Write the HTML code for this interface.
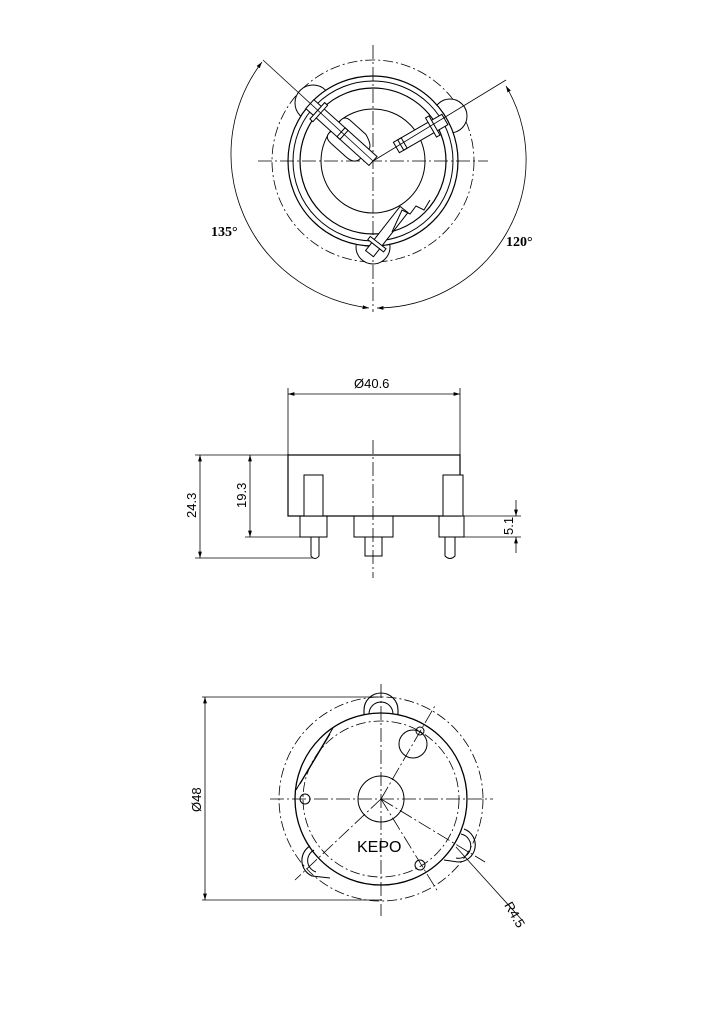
<!DOCTYPE html>
<html><head><style>body{margin:0;background:#fff}svg{display:block}</style></head><body>
<svg width="724" height="1024" viewBox="0 0 724 1024" xmlns="http://www.w3.org/2000/svg" fill="none" stroke="#000" stroke-width="1">
<defs>
<marker id="a" viewBox="0 0 10 10" refX="10" refY="5" markerWidth="8" markerHeight="8" orient="auto-start-reverse"><path d="M0,2 L10,5 L0,8z" fill="#000" stroke="none"/></marker>
</defs>
<!-- TOP VIEW -->
<g>
<circle cx="373" cy="161" r="101" stroke-dasharray="10,3,2,3" stroke-width="0.8"/>
<circle cx="313" cy="103" r="18" fill="#fff"/>
<circle cx="450" cy="116" r="17" fill="#fff"/>
<circle cx="373" cy="247" r="17" fill="#fff"/>
<circle cx="373" cy="161" r="85" stroke-width="1.2" fill="#fff"/>
<circle cx="373" cy="161" r="80"/>
<circle cx="373" cy="161" r="73" stroke-width="1.2"/>
<circle cx="373" cy="161" r="52"/>
<line x1="373" y1="45" x2="373" y2="312" stroke-dasharray="14,3,2,3" stroke-width="0.8"/>
<line x1="258" y1="161" x2="488" y2="161" stroke-dasharray="14,3,2,3" stroke-width="0.8"/>
<!-- upper-left arm -->
<g transform="rotate(-48 373 161)">
<path d="M358,118 Q358,108 367,110 L379,110 Q388,108 388,118 L388,138 Q384,150 379,150 L367,150 Q358,150 358,138 Z" fill="#fff"/>
<rect x="367" y="76" width="12" height="85" fill="#fff"/>
<rect x="362" y="86" width="22" height="4" fill="#fff"/>
<rect x="367" y="118" width="12" height="4"/>
</g>
<!-- upper-right arm -->
<g transform="rotate(60 373 161)">
<rect x="367" y="78" width="12" height="56" fill="#fff"/>
<rect x="362" y="90" width="22" height="4" fill="#fff"/>
<rect x="367" y="125" width="12" height="4"/>
</g>
<!-- bottom arm -->
<g transform="rotate(38 388 230)">
<rect x="383" y="204" width="10" height="56" fill="#fff"/>
<rect x="378" y="246" width="20" height="4" fill="#fff"/>
</g>
<path d="M392,232 L402,210 L410,214 L416,206 L424,210 L430,200"/>
<!-- angle lines -->
<line x1="373" y1="161" x2="263" y2="60" stroke-width="0.8"/>
<line x1="373" y1="161" x2="506" y2="80" stroke-width="0.8"/>
<path d="M262,62 A158,155 0 0 0 369,308" stroke-width="0.8" marker-start="url(#a)" marker-end="url(#a)"/>
<path d="M506,86 A150,148 0 0 1 377,308" stroke-width="0.8" marker-start="url(#a)" marker-end="url(#a)"/>
<text x="211" y="236" font-family="Liberation Serif,serif" font-weight="bold" font-size="14" fill="#000" stroke="none">135°</text>
<text x="506" y="246" font-family="Liberation Serif,serif" font-weight="bold" font-size="14" fill="#000" stroke="none">120°</text>
</g>
<!-- SIDE VIEW -->
<g>
<line x1="373" y1="440" x2="373" y2="578" stroke-dasharray="14,3,2,3" stroke-width="0.8"/>
<rect x="288" y="455" width="172" height="61" stroke-width="1.2"/>
<line x1="288" y1="388" x2="288" y2="455" stroke-width="0.8"/>
<line x1="460" y1="388" x2="460" y2="455" stroke-width="0.8"/>
<line x1="288" y1="394" x2="460" y2="394" stroke-width="0.8" marker-start="url(#a)" marker-end="url(#a)"/>
<text x="354" y="388" font-family="Liberation Sans Narrow,Liberation Sans,sans-serif" font-size="13" fill="#000" stroke="none">Ø40.6</text>
<rect x="304" y="475" width="19" height="41" fill="#fff"/>
<rect x="300" y="516" width="27" height="21"/>
<path d="M311,537 L311,556 Q315,561 319,556 L319,537"/>
<rect x="354" y="516" width="39" height="21"/>
<path d="M365,537 L365,556 L382,556 L382,537"/>
<rect x="443" y="475" width="20" height="41" fill="#fff"/>
<rect x="439" y="516" width="25" height="21"/>
<path d="M445,537 L445,556 Q450,561 455,556 L455,537"/>
<line x1="195" y1="455" x2="288" y2="455" stroke-width="0.8"/>
<line x1="195" y1="558" x2="313" y2="558" stroke-width="0.8"/>
<line x1="200" y1="455" x2="200" y2="558" stroke-width="0.8" marker-start="url(#a)" marker-end="url(#a)"/>
<text transform="translate(196,518) rotate(-90)" font-family="Liberation Sans Narrow,Liberation Sans,sans-serif" font-size="13" fill="#000" stroke="none">24.3</text>
<line x1="245" y1="537" x2="300" y2="537" stroke-width="0.8"/>
<line x1="250" y1="455" x2="250" y2="537" stroke-width="0.8" marker-start="url(#a)" marker-end="url(#a)"/>
<text transform="translate(246,508) rotate(-90)" font-family="Liberation Sans Narrow,Liberation Sans,sans-serif" font-size="13" fill="#000" stroke="none">19.3</text>
<line x1="464" y1="516" x2="521" y2="516" stroke-width="0.8"/>
<line x1="464" y1="537" x2="521" y2="537" stroke-width="0.8"/>
<line x1="516" y1="500" x2="516" y2="516" stroke-width="0.8" marker-end="url(#a)"/>
<line x1="516" y1="553" x2="516" y2="537" stroke-width="0.8" marker-end="url(#a)"/>
<text transform="translate(513,535) rotate(-90)" font-family="Liberation Sans Narrow,Liberation Sans,sans-serif" font-size="13" fill="#000" stroke="none">5.1</text>
</g>
<!-- BOTTOM VIEW -->
<g>
<line x1="381" y1="684" x2="381" y2="916" stroke-dasharray="14,3,2,3" stroke-width="0.8"/>
<line x1="270" y1="799" x2="493" y2="799" stroke-dasharray="14,3,2,3" stroke-width="0.8"/>
<circle cx="381" cy="799" r="102" stroke-dasharray="10,3,2,3" stroke-width="0.8"/>
<circle cx="381" cy="799" r="78" stroke-dasharray="10,3,2,3" stroke-width="0.8"/>
<path d="M364,715 L364,710 A17,17 0 0 1 398,710 L398,715" stroke-width="1.1"/>
<path d="M369,714 A12,12 0 0 1 393,714"/>
<path d="M310,846 A17,17 0 0 0 312,876 L330,878" stroke-width="1.1"/>
<path d="M314,850 A12,12 0 0 0 316,872"/>
<path d="M464,829 A17,17 0 0 1 458,862 L444,860" stroke-width="1.1"/>
<path d="M461,834 A12,12 0 0 1 456,858"/>
<circle cx="381" cy="799" r="86" stroke-width="1.3" fill="none"/>
<path d="M296,790 L333,728 M300,784 L330,734"/>
<circle cx="381" cy="799" r="23"/>
<circle cx="305" cy="799" r="5"/>
<circle cx="420" cy="865" r="5"/>
<circle cx="413" cy="744" r="14"/>
<circle cx="420" cy="731" r="4"/>
<g stroke-dasharray="14,3,2,3" stroke-width="0.8">
<line x1="381" y1="799" x2="436" y2="704"/>
<line x1="381" y1="799" x2="295" y2="880"/>
<line x1="381" y1="799" x2="438" y2="892"/>
<line x1="381" y1="799" x2="485" y2="862"/>
</g>
<line x1="456" y1="847" x2="522" y2="920" stroke-width="0.8"/>
<text transform="translate(504,905) rotate(60)" font-family="Liberation Sans Narrow,Liberation Sans,sans-serif" font-size="13" fill="#000" stroke="none">R4.5</text>
<text x="357" y="852" font-family="Liberation Sans,sans-serif" font-size="16" fill="#000" stroke="none">KEPO</text>
<line x1="202" y1="697" x2="382" y2="697" stroke-width="0.8"/>
<line x1="202" y1="900" x2="382" y2="900" stroke-width="0.8"/>
<line x1="205" y1="697" x2="205" y2="900" stroke-width="0.8" marker-start="url(#a)" marker-end="url(#a)"/>
<text transform="translate(201,812) rotate(-90)" font-family="Liberation Sans Narrow,Liberation Sans,sans-serif" font-size="13" fill="#000" stroke="none">Ø48</text>
</g>
</svg>
</body></html>
